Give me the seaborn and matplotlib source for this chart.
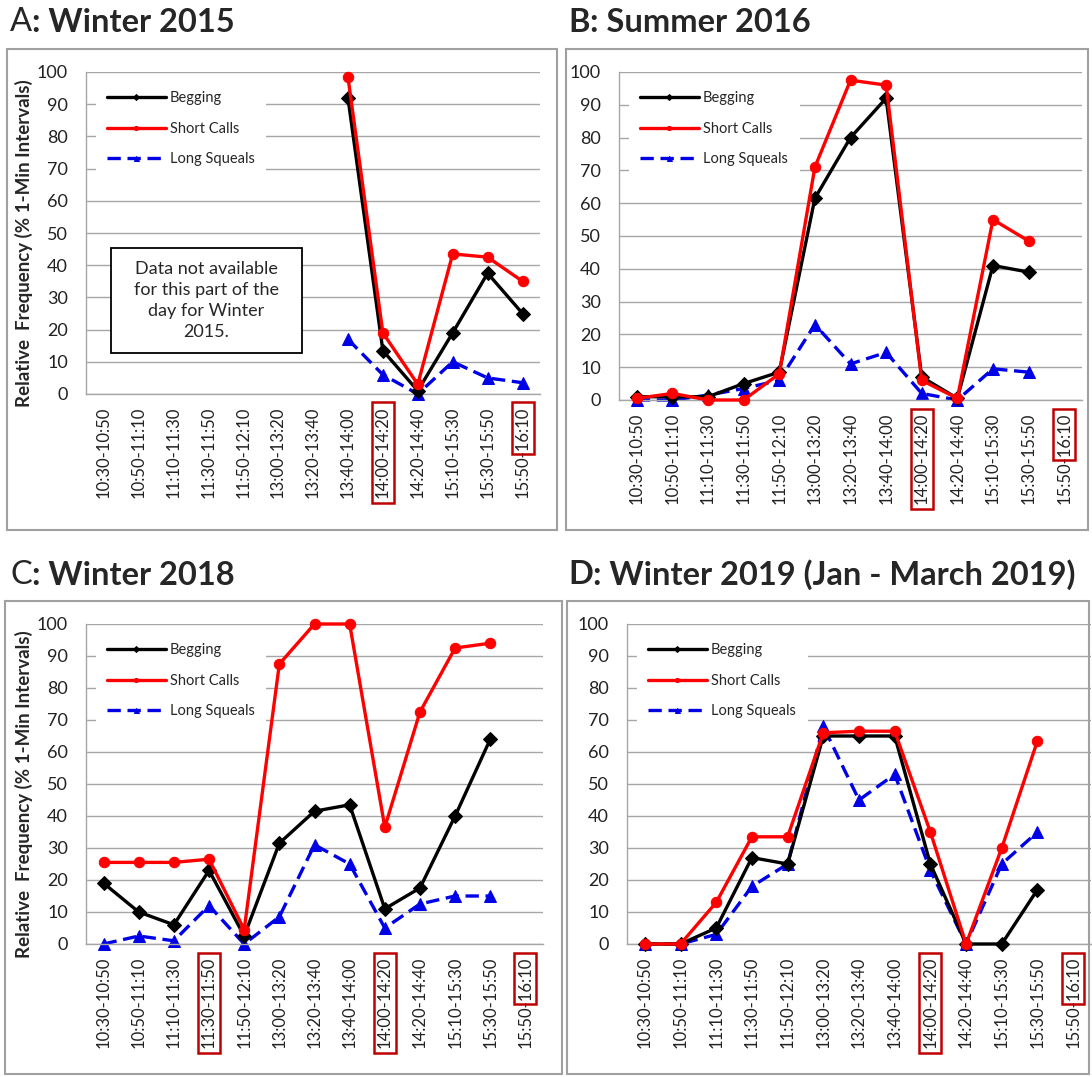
import numpy as np
import pandas as pd
import matplotlib
matplotlib.use('Agg')
import matplotlib.pyplot as plt
import seaborn as sns
from matplotlib.patches import Rectangle

# time slots (x categories)
slots = ['10:30-10:50', '10:50-11:10', '11:10-11:30', '11:30-11:50', '11:50-12:10',
         '13:00-13:20', '13:20-13:40', '13:40-14:00', '14:00-14:20', '14:20-14:40',
         '15:10-15:30', '15:30-15:50', '15:50-16:10']
nan = np.nan

# A: Winter 2015
beg_a = [nan, nan, nan, nan, nan, nan, nan, 92, 13.5, 1, 19, 37.5, 25]
sc_a = [nan, nan, nan, nan, nan, nan, nan, 98.5, 19, 3, 43.5, 42.5, 35]
ls_a = [nan, nan, nan, nan, nan, nan, nan, 17, 6, 0, 10, 5, 3.5]
# B: Summer 2016
beg_b = [1, 1, 1, 5, 8.5, 61.5, 80, 92, 7, 0.5, 41, 39, nan]
sc_b = [0.5, 2, 0, 0, 8, 71, 97.5, 96, 6, 0.5, 55, 48.5, nan]
ls_b = [0, 0, 1.5, 3.5, 6, 23, 11, 14.5, 2, 0, 9.5, 8.5, nan]
# C: Winter 2018
beg_c = [19, 10, 6, 23, 2.5, 31.5, 41.5, 43.5, 11, 17.5, 40, 64, nan]
sc_c = [25.5, 25.5, 25.5, 26.5, 4.5, 87.5, 100, 100, 36.5, 72.5, 92.5, 94, nan]
ls_c = [0, 2.5, 1, 12, 0, 8.5, 31, 25, 5, 12.5, 15, 15, nan]
# D: Winter 2019
beg_d = [0, 0, 5, 27, 25, 65, 65, 65, 25, 0, 0, 17, nan]
sc_d = [0, 0, 13, 33.5, 33.5, 66, 66.5, 66.5, 35, 0, 30, 63.5, nan]
ls_d = [0, 0, 3, 18, 25, 68, 45, 53, 23, 0, 25, 35, nan]

W, H = 1092, 1077
sns.set_style('white')
plt.rcParams['font.family'] = ['Lato', 'DejaVu Sans']

fig = plt.figure(figsize=(W / 100, H / 100), dpi=100)


def frac(l, t, r, b):  # pixel box -> figure fraction
    return [l / W, 1 - b / H, (r - l) / W, (b - t) / H]


panels = [
    dict(letter='A', rest=': Winter 2015', bold_letter=False, ax=(86, 72, 540, 394), box=(7, 49, 557, 530),
         title=(10, 22), data=(beg_a, sc_a, ls_a), boxed=[8], ylab=True),
    dict(letter='B', rest=': Summer 2016', bold_letter=True, ax=(619, 72, 1082, 400), box=(566, 49, 1088, 530),
         title=(568, 22), data=(beg_b, sc_b, ls_b), boxed=[8], ylab=False),
    dict(letter='C', rest=': Winter 2018', bold_letter=False, ax=(86, 624, 543, 944), box=(5, 601, 562, 1074),
         title=(10, 575), data=(beg_c, sc_c, ls_c), boxed=[3, 8], ylab=True),
    dict(letter='D', rest=': Winter 2019 (Jan - March 2019)', bold_letter=True, ax=(627, 624, 1091, 944),
         box=(567, 601, 1089, 1074), title=(568, 575), data=(beg_d, sc_d, ls_d), boxed=[8], ylab=False),
]

grid_c = '#a6a6a6'
for p in panels:
    fig.add_artist(Rectangle(frac(*p['box'])[:2], *frac(*p['box'])[2:], transform=fig.transFigure,
                             fill=False, ec='#a0a0a0', lw=1.5))
    t1 = fig.text(p['title'][0] / W, 1 - p['title'][1] / H, p['letter'], fontsize=23.5,
                  fontweight='bold' if p['bold_letter'] else 'normal', va='center')
    fig.add_artist(matplotlib.text.Annotation(p['rest'], xy=(1, 0), xycoords=t1, va='bottom', ha='left',
                                              fontsize=23.5, fontweight='bold'))

    ax = fig.add_axes(frac(*p['ax']))
    beg, sc, ls = p['data']
    df = pd.DataFrame({'x': np.arange(len(slots)), 'Begging': beg, 'Short Calls': sc, 'Long Squeals': ls})
    sns.lineplot(data=df, x='x', y='Begging', ax=ax, color='black', lw=2.4, marker='D', ms=7.5,
                 mec='black', mfc='black', label='Begging', zorder=3, clip_on=False)
    sns.lineplot(data=df, x='x', y='Short Calls', ax=ax, color='#ff0000', lw=2.4, marker='o', ms=7.5,
                 mec='#ff0000', mfc='#ff0000', label='Short Calls', zorder=4, clip_on=False)
    sns.lineplot(data=df, x='x', y='Long Squeals', ax=ax, color='#0000e6', lw=2.4, ls=(0, (4, 2)),
                 marker='^', ms=9, mec='#0000e6', mfc='#0000e6', label='Long Squeals', zorder=2, clip_on=False)

    ax.set_xlim(-0.5, len(slots) - 0.5)
    ax.set_ylim(0, 100)
    ax.set_yticks(np.arange(0, 101, 10))
    ax.set_xticks(np.arange(len(slots)))
    ax.set_xticklabels(slots, rotation=90, fontsize=12, color='#222222')
    ax.set_xticks(np.arange(-0.5, len(slots), 1), minor=True)
    ax.tick_params(axis='x', which='major', length=0, pad=9)
    ax.tick_params(axis='x', which='minor', length=6, color=grid_c, width=1, direction='out')
    ax.tick_params(axis='y', length=6, color=grid_c, width=1, direction='out', pad=7,
                   labelsize=13, labelcolor='#222222')
    ax.yaxis.grid(True, color=grid_c, lw=1)
    ax.set_axisbelow(True)
    for s in ['top', 'right']:
        ax.spines[s].set_visible(False)
    for s in ['left', 'bottom']:
        ax.spines[s].set_color(grid_c)
        ax.spines[s].set_linewidth(1)
    ax.set_xlabel('')
    if p['ylab']:
        ax.set_ylabel('Relative  Frequency (% 1-Min Intervals)', fontsize=13.5, fontweight='bold')
        w = p['ax'][2] - p['ax'][0]
        hh = p['ax'][3] - p['ax'][1]
        ax.yaxis.set_label_coords(-(p['ax'][0] - 33) / w, 0.5 - 10 / hh)
    else:
        ax.set_ylabel('')
    leg = ax.legend(loc='upper left', bbox_to_anchor=(0.005, 1.0), frameon=True, facecolor='white',
                    edgecolor='none', framealpha=1, fancybox=False, fontsize=10.5, handlelength=4.0,
                    labelspacing=1.15, markerscale=0.4, borderpad=0.8, handletextpad=0.3)
    leg.set_zorder(1)
    p['axh'] = ax

# note in panel A
axA = panels[0]['axh']
axA.add_patch(Rectangle((0.055, 0.127), 0.42, 0.326, transform=axA.transAxes, fill=True, fc='white',
                        ec='black', lw=1.3, zorder=5))
axA.text(0.265, 0.29, 'Data not available\nfor this part of the\nday for Winter\n2015.', transform=axA.transAxes,
         ha='center', va='center', fontsize=13, linespacing=1.4, zorder=6)

# red boxes around highlighted tick labels
fig.canvas.draw()
rend = fig.canvas.get_renderer()
inv = fig.transFigure.inverted()
for p in panels:
    ax = p['axh']
    labs = ax.get_xticklabels()
    for i in p['boxed'] + [len(slots) - 1]:
        bb = labs[i].get_window_extent(rend)
        x0, x1, y0, y1 = bb.x0 - 3, bb.x1 + 3, bb.y0 - 5, bb.y1 + 4
        if i == len(slots) - 1:
            # only the end time part
            wpart, _, _ = rend.get_text_width_height_descent('15:50', labs[i].get_fontproperties(), ismath=False)
            y0 = bb.y0 + wpart + 1
        (fx0, fy0), (fx1, fy1) = inv.transform([(x0, y0), (x1, y1)])
        fig.add_artist(Rectangle((fx0, fy0), fx1 - fx0, fy1 - fy0, transform=fig.transFigure,
                                 fill=False, ec='#c00000', lw=1.8))

fig.savefig('out.png', dpi=100)
